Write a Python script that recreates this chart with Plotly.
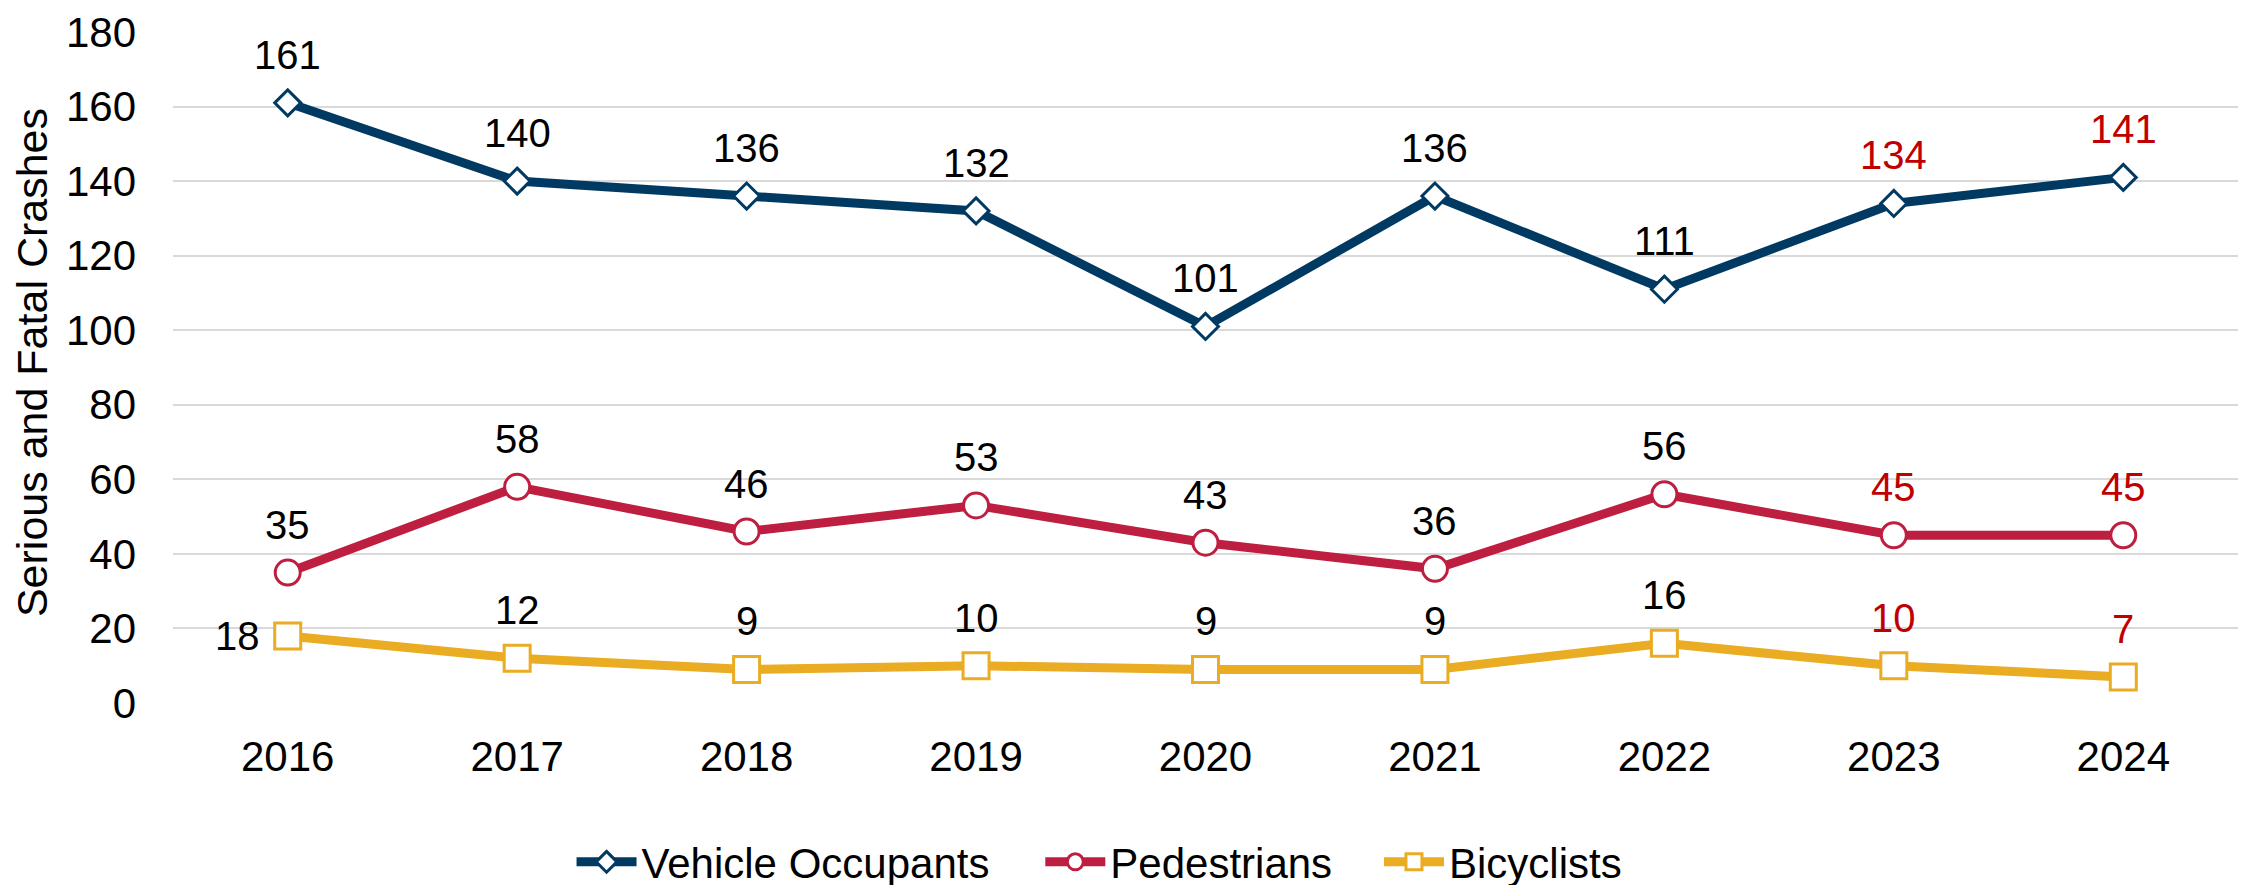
import plotly.graph_objects as go

years = ["2016", "2017", "2018", "2019", "2020", "2021", "2022", "2023", "2024"]
vehicle_occupants = [161, 140, 136, 132, 101, 136, 111, 134, 141]
pedestrians = [35, 58, 46, 53, 43, 36, 56, 45, 45]
bicyclists = [18, 12, 9, 10, 9, 9, 16, 10, 7]
y_ticks = [0, 20, 40, 60, 80, 100, 120, 140, 160, 180]

NAVY = "#003A63"
CRIMSON = "#BE1E40"
GOLD = "#E9AC22"
LABEL_RED = "#C00000"
FONT = "Arial, Liberation Sans, sans-serif"

label_colors = ["black"] * 7 + [LABEL_RED] * 2

fig = go.Figure()
annotations = []

def add_series(name, values, color, symbol, size, legend, left_first=False):
    fig.add_trace(go.Scatter(
        x=years, y=values, name=name, legend=legend,
        mode="lines+markers",
        line=dict(color=color, width=9),
        marker=dict(symbol=symbol, size=size, color="white",
                    line=dict(color=color, width=3)),
        cliponaxis=False,
    ))
    for i, v in enumerate(values):
        # category axis: annotations use the category's serial index
        if left_first and i == 0:
            annotations.append(dict(x=i, y=v, text=str(v), showarrow=False,
                                    xanchor="right", yanchor="middle",
                                    xshift=-26, yshift=0,
                                    font=dict(family=FONT, size=40, color=label_colors[i])))
        else:
            annotations.append(dict(x=i, y=v, text=str(v), showarrow=False,
                                    xanchor="center", yanchor="middle",
                                    yshift=48,
                                    font=dict(family=FONT, size=40, color=label_colors[i])))

add_series("Vehicle Occupants", vehicle_occupants, NAVY, "diamond", 20, "legend")
add_series("Pedestrians", pedestrians, CRIMSON, "circle", 25, "legend2")
add_series("Bicyclists", bicyclists, GOLD, "square", 26, "legend3", left_first=True)

annotations.append(dict(text="Serious and Fatal Crashes", textangle=-90,
                        xref="paper", yref="paper", x=-0.0683, y=0.508,
                        xanchor="center", yanchor="middle", showarrow=False,
                        font=dict(family=FONT, size=43, color="black")))

leg_common = dict(orientation="h", y=-0.237, yanchor="middle",
                  xanchor="left", itemwidth=60,
                  font=dict(family=FONT, size=42, color="black"),
                  bgcolor="rgba(0,0,0,0)")

fig.update_layout(
    width=2250, height=885,
    # page body has an 8px default margin; margins compensate for it
    margin=dict(l=165, r=20, t=24, b=190, autoexpand=False),
    paper_bgcolor="white", plot_bgcolor="white",
    font=dict(family=FONT, size=40, color="black"),
    showlegend=True,
    legend=dict(x=0.193, **leg_common),
    legend2=dict(x=0.420, **leg_common),
    legend3=dict(x=0.584, **leg_common),
    xaxis=dict(type="category", range=[-0.5, 8.5], showgrid=False,
               showline=False, zeroline=False, ticks="", automargin=False,
               tickfont=dict(family=FONT, size=42, color="black"),
               ticklabelstandoff=25),
    yaxis=dict(range=[0, 180], tickvals=y_ticks, showgrid=True,
               gridcolor="#D9D9D9", gridwidth=2, zeroline=False,
               showline=False, ticks="", automargin=False,
               ticklabeloverflow="allow",
               tickfont=dict(family=FONT, size=42, color="black"),
               ticklabelstandoff=36),
    annotations=annotations,
)

fig.write_html("out.html")
